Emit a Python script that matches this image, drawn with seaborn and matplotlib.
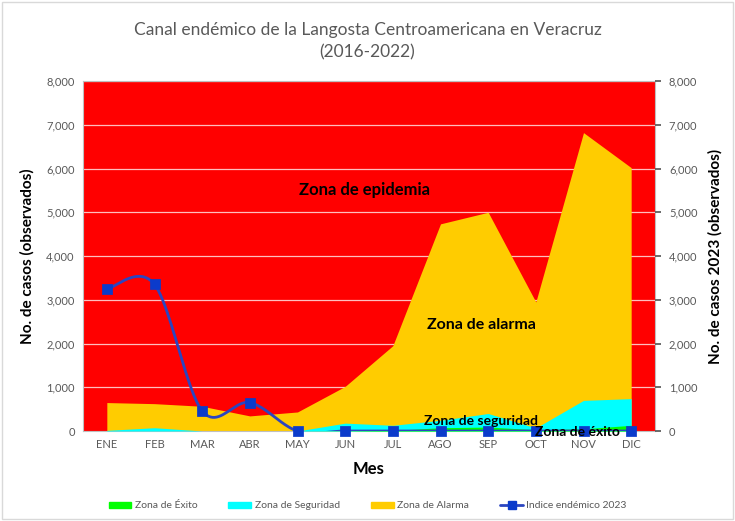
import numpy as np
import pandas as pd
import matplotlib.pyplot as plt
import seaborn as sns
from matplotlib.patches import Patch, Rectangle
from matplotlib.lines import Line2D
from matplotlib.ticker import FuncFormatter

# Datos (casos por mes)
meses = ["ENE", "FEB", "MAR", "ABR", "MAY", "JUN",
         "JUL", "AGO", "SEP", "OCT", "NOV", "DIC"]
zona_exito = [0, 0, 0, 0, 0, 5, 15, 75, 90, 30, 50, 130]
zona_seguridad = [15, 75, 0, 0, 0, 180, 130, 245, 400, 70, 700, 740]
zona_alarma = [650, 625, 565, 345, 435, 1020, 1950, 4735, 5000, 2950, 6820, 6020]
indice_2023 = [3245, 3350, 460, 650, 0, 0, 0, 0, 0, 0, 0, 0]

ymax = 8000


def suavizar(y, n=24):
    # curva suavizada tipo Excel (Bezier / Catmull-Rom) entre los puntos
    y = np.asarray(y, dtype=float)
    x = np.arange(len(y), dtype=float)
    px = np.concatenate([[x[0]], x, [x[-1]]])
    py = np.concatenate([[y[0]], y, [y[-1]]])
    xs, ys = [], []
    t = np.linspace(0, 1, n)
    for i in range(1, len(px) - 2):
        p0 = np.array([px[i], py[i]])
        p3 = np.array([px[i + 1], py[i + 1]])
        p1 = p0 + (np.array([px[i + 1], py[i + 1]]) - np.array([px[i - 1], py[i - 1]])) / 6
        p2 = p3 - (np.array([px[i + 2], py[i + 2]]) - np.array([px[i], py[i]])) / 6
        b = ((1 - t) ** 3)[:, None] * p0 + (3 * (1 - t) ** 2 * t)[:, None] * p1 \
            + (3 * (1 - t) * t ** 2)[:, None] * p2 + (t ** 3)[:, None] * p3
        xs.extend(b[:, 0])
        ys.extend(b[:, 1])
    return np.array(xs), np.array(ys)


sns.set_theme(style="white")
plt.rcParams['font.family'] = ['Lato', 'DejaVu Sans']

fig = plt.figure(figsize=(7.35, 5.21), dpi=100)
fig.patches.append(Rectangle((0.003, 0.003), 0.994, 0.994, transform=fig.transFigure,
                             fill=False, edgecolor="#D9D9D9", lw=1))

ax = fig.add_axes([83 / 735, 90 / 521, 572 / 735, 350 / 521])
ax.set_facecolor("#FF0000")

x = np.arange(len(meses))
ax.fill_between(x, 0, zona_alarma, color="#FFCC00", lw=0, zorder=2)
ax.fill_between(x, 0, zona_seguridad, color="#00FFFF", lw=0, zorder=3)
ax.fill_between(x, 0, zona_exito, color="#00FF00", lw=0, zorder=4)

for v in range(1000, ymax + 1, 1000):
    ax.axhline(v, color="#FFFFFF", lw=0.9, alpha=0.75, zorder=1.5)

xs, ys = suavizar(indice_2023)
curva = pd.DataFrame({"x": xs, "y": ys})
sns.lineplot(data=curva, x="x", y="y", ax=ax, color="#2B45C0", lw=2,
             sort=False, estimator=None, zorder=6)
puntos = pd.DataFrame({"mes": x, "casos": indice_2023})
sns.scatterplot(data=puntos, x="mes", y="casos", ax=ax, marker="s", s=45,
                color="#0B3BCB", edgecolor="#0B3BCB", zorder=7, clip_on=False)

ax.set_xlim(-0.5, len(meses) - 0.5)
ax.set_ylim(0, ymax)
ax.set_xticks(x)
ax.set_xticklabels(meses)
ax.set_yticks(range(0, ymax + 1, 1000))
fmt = FuncFormatter(lambda v, p: f"{int(v):,}")
ax.yaxis.set_major_formatter(fmt)
ax.tick_params(axis="both", labelsize=8, colors="#595959", length=0, pad=6)
ax.set_xlabel("Mes", fontsize=12, fontweight="bold", color="black", labelpad=8)
ax.set_ylabel("No. de casos (observados)", fontsize=11, fontweight="bold",
              color="black", labelpad=8)
for s in ax.spines.values():
    s.set_color("#BFBFBF")
    s.set_linewidth(0.8)

ax2 = ax.twinx()
ax2.set_ylim(0, ymax)
ax2.set_yticks(range(0, ymax + 1, 1000))
ax2.yaxis.set_major_formatter(fmt)
ax2.tick_params(axis="y", labelsize=8, colors="#595959", length=4, pad=6)
ax2.set_ylabel("No. de casos 2023 (observados)", fontsize=11, fontweight="bold",
               color="black", labelpad=8)
for s in ax2.spines.values():
    s.set_visible(False)

# Etiquetas de zonas
ax.text(5.4, 5500, "Zona de epidemia", fontsize=12, fontweight="bold",
        color="black", ha="center", va="center", zorder=8)
ax.text(7.85, 2420, "Zona de alarma", fontsize=11.5, fontweight="bold",
        color="black", ha="center", va="center", zorder=8)
ax.text(7.86, 230, "Zona de seguridad", fontsize=10, fontweight="bold",
        color="black", ha="center", va="center", zorder=8)
ax.text(9.87, -25, "Zona de éxito", fontsize=10, fontweight="bold",
        color="black", ha="center", va="center", zorder=8, clip_on=False)

fig.text(0.5, 1 - 30 / 521, "Canal endémico de la Langosta Centroamericana en Veracruz",
         ha="center", va="center", fontsize=12.5, color="#595959")
fig.text(0.5, 1 - 52 / 521, "(2016-2022)", ha="center", va="center",
         fontsize=12.5, color="#595959")

handles = [
    Patch(color="#00FF00", label="Zona de Éxito"),
    Patch(color="#00FFFF", label="Zona de Seguridad"),
    Patch(color="#FFCC00", label="Zona de Alarma"),
    Line2D([0], [0], color="#2B45C0", lw=2, marker="s", markersize=6,
           markerfacecolor="#0B3BCB", markeredgecolor="#0B3BCB",
           label="Indice endémico 2023"),
]
fig.legend(handles=handles, loc="center", bbox_to_anchor=(0.5, 1 - 506 / 521),
           ncol=4, frameon=False, fontsize=7.5, labelcolor="#595959",
           handlelength=2.2, handleheight=0.5, columnspacing=3.0, handletextpad=0.3)

fig.savefig("out.png", dpi=100)
